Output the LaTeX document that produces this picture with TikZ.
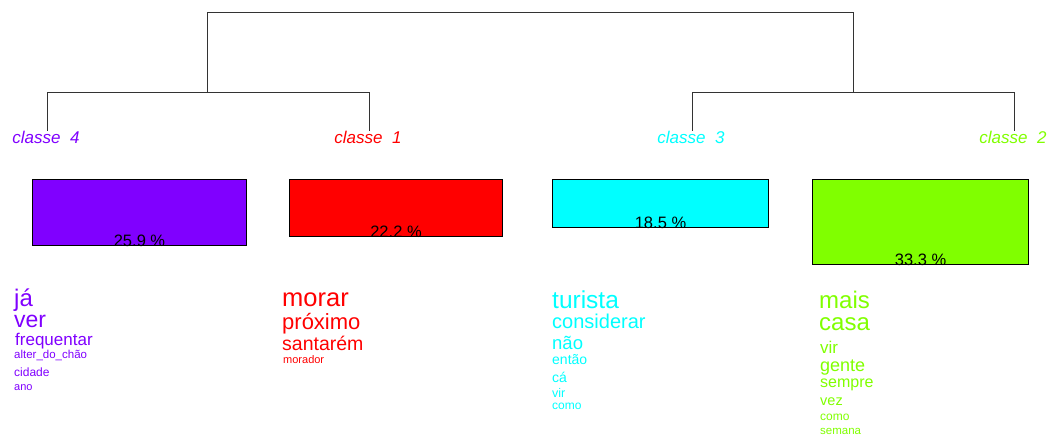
\documentclass[tikz,border=0pt]{standalone}
\usepackage{fontspec}
\setmainfont{Liberation Sans}
\definecolor{cA}{HTML}{FF0000}
\definecolor{cB}{HTML}{80FF00}
\definecolor{cC}{HTML}{00FFFF}
\definecolor{cD}{HTML}{8000FF}
\newcommand\fsz[1]{\fontsize{#1}{#1}\selectfont}
\tikzset{
  dend/.style={line width=1pt, draw=black!80},
  clabel/.style={anchor=base, inner sep=0pt, font=\fsz{17}\itshape},
  bar/.style={draw=black, line width=1pt, anchor=north west, inner sep=0pt, minimum height=#1},
  pct/.style={anchor=base, inner sep=0pt, font=\fsz{16.5}, text=black},
  wd/.style={anchor=base west, inner sep=0pt},
}
\begin{document}
\begin{tikzpicture}[x=1pt,y=-1pt]
\useasboundingbox (0,0) rectangle (1049,435);
% dendrogram
\coordinate (rl) at (207,13);
\coordinate (rr) at (853,13);
\coordinate (nl) at (207,93);
\coordinate (nr) at (853,93);
\coordinate (l4t) at (47,93);
\coordinate (l1t) at (369,93);
\coordinate (l3t) at (692,93);
\coordinate (l2t) at (1014,93);
\coordinate (l4) at (47,131);
\coordinate (l1) at (369,131);
\coordinate (l3) at (692,131);
\coordinate (l2) at (1014,131);
\draw[dend] (nl) -- (rl) -- (rr) -- (nr);
\draw[dend] (l4) -- (l4t) -- (l1t) -- (l1);
\draw[dend] (l3) -- (l3t) -- (l2t) -- (l2);
% class labels
\node[clabel, text=cD] (k4) at (46,144) {classe\ \ 4};
\node[clabel, text=cA] (k1) at (368,144) {classe\ \ 1};
\node[clabel, text=cC] (k3) at (691,144) {classe\ \ 3};
\node[clabel, text=cB] (k2) at (1013,144) {classe\ \ 2};
% bars
\node[bar=66pt, fill=cD, minimum width=214pt] (b4) at (32,179) {};
\node[bar=57pt, fill=cA, minimum width=213pt] (b1) at (289,179) {};
\node[bar=48pt, fill=cC, minimum width=216pt] (b3) at (552,179) {};
\node[bar=85pt, fill=cB, minimum width=216pt] (b2) at (812,179) {};
\node[pct] (p4) at ([yshift=-0.5pt]b4.south) {25.9 \%};
\node[pct] (p1) at ([yshift=-0.5pt]b1.south) {22.2 \%};
\node[pct] (p3) at ([yshift=-0.5pt]b3.south) {18.5 \%};
\node[pct] (p2) at ([yshift=-0.5pt]b2.south) {33.3 \%};
% words classe 4
\begin{scope}[every node/.style={wd, text=cD}]
\node[font=\fsz{24}] (w4a) at (14,307) {já};
\node[font=\fsz{23}] (w4b) at (14,328) {ver};
\node[font=\fsz{17}] (w4c) at (15,345) {frequentar};
\node[font=\fsz{11.5}] (w4d) at (14,359) {alter\_do\_chão};
\node[font=\fsz{12}] (w4e) at (14,377) {cidade};
\node[font=\fsz{11}] (w4f) at (14,390) {ano};
\end{scope}
% words classe 1
\begin{scope}[every node/.style={wd, text=cA}]
\node[font=\fsz{25.5}] (w1a) at (282,307) {morar};
\node[font=\fsz{22}] (w1b) at (282,330) {próximo};
\node[font=\fsz{19.5}] (w1c) at (282,351) {santarém};
\node[font=\fsz{11}] (w1d) at (283,363) {morador};
\end{scope}
% words classe 3
\begin{scope}[every node/.style={wd, text=cC}]
\node[font=\fsz{24.5}] (w3a) at (552,309) {turista};
\node[font=\fsz{20}] (w3b) at (552,329) {considerar};
\node[font=\fsz{18.5}] (w3c) at (552,350) {não};
\node[font=\fsz{14}] (w3d) at (552,365) {então};
\node[font=\fsz{14}] (w3e) at (552,382) {cá};
\node[font=\fsz{12.5}] (w3f) at (552,397) {vir};
\node[font=\fsz{12}] (w3g) at (552,409) {como};
\end{scope}
% words classe 2
\begin{scope}[every node/.style={wd, text=cB}]
\node[font=\fsz{24}] (w2a) at (819,309) {mais};
\node[font=\fsz{24}] (w2b) at (819,331) {casa};
\node[font=\fsz{17}] (w2c) at (820,354) {vir};
\node[font=\fsz{18}] (w2d) at (820,371) {gente};
\node[font=\fsz{16}] (w2e) at (820,388) {sempre};
\node[font=\fsz{14.5}] (w2f) at (820,405) {vez};
\node[font=\fsz{12}] (w2g) at (820,420) {como};
\node[font=\fsz{11.5}] (w2h) at (820,434) {semana};
\end{scope}
\end{tikzpicture}
\end{document}
